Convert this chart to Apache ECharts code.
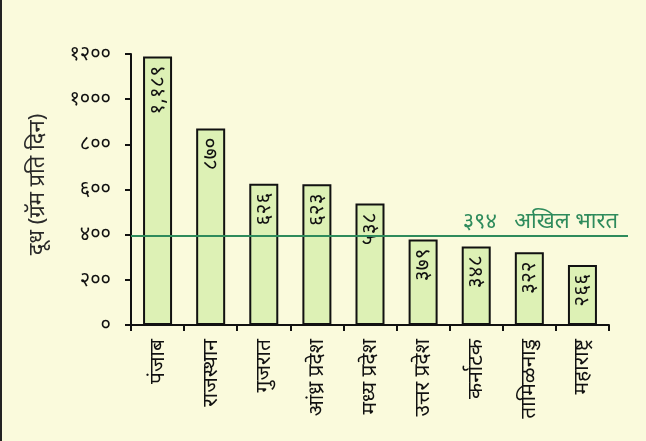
<!DOCTYPE html>
<html><head><meta charset="utf-8">
<script src="https://cdn.jsdelivr.net/npm/echarts@6/dist/echarts.min.js"></script>
<style>
html,body{margin:0;padding:0;background:#FAFADC;}
#c{position:absolute;left:0;top:0;width:646px;height:441px;}
#edge{position:absolute;left:0;top:0;width:2px;height:441px;background:#222;}
</style></head>
<body><div id="c"></div><div id="edge"></div>
<script>
const categories = ['पंजाब','राजस्थान','गुजरात','आंध्र प्रदेश','मध्य प्रदेश','उत्तर प्रदेश','कर्नाटक','तामिळनाडु','महाराष्ट्र'];
const values = [1189, 870, 626, 623, 538, 379, 348, 322, 266];
const valueLabels = ['१,१८९','८७०','६२६','६२३','५३८','३७९','३४८','३२२','२६६'];
const yTicks = [0, 200, 400, 600, 800, 1000, 1200];
const yTickLabels = ['०','२००','४००','६००','८००','१०००','१२००'];
const nationalAvg = 394;
const nationalLabel = '३९४   अखिल भारत';
const yName = 'दूध (ग्रॅम प्रति दिन)';

const FONT = "'Noto Sans', 'Noto Sans Devanagari', 'Lohit Devanagari', sans-serif";
const GREEN = '#2E8B5C';
const chart = echarts.init(document.getElementById('c'));
chart.setOption({
  backgroundColor: '#FAFADC',
  animation: false,
  textStyle: {fontFamily: FONT},
  grid: [
    {left: 131, right: 37, top: 54, bottom: 116},
    {left: 131, right: 18, top: 54, bottom: 116}
  ],
  xAxis: [
    {type: 'category', data: categories, gridIndex: 0,
     axisLine: {lineStyle: {color: '#111', width: 2}},
     axisTick: {show: true, length: 6, lineStyle: {color: '#111', width: 2}},
     axisLabel: {rotate: 90, fontSize: 21, color: '#111', margin: 14, fontFamily: FONT}},
    {type: 'value', gridIndex: 1, min: 0, max: 1, show: false}
  ],
  yAxis: [
    {type: 'value', gridIndex: 0, min: 0, max: 1200, interval: 200,
     name: yName, nameLocation: 'middle', nameGap: 82, nameRotate: 90,
     nameTextStyle: {fontSize: 22, color: '#2a2a2a', fontFamily: FONT, padding: [0, 0, 0, 10]},
     axisLine: {show: true, lineStyle: {color: '#111', width: 2}},
     axisTick: {show: true, length: 6, lineStyle: {color: '#111', width: 2}},
     splitLine: {show: false},
     axisLabel: {fontSize: 20, color: '#111', margin: 20, fontFamily: FONT,
       formatter: v => yTickLabels[yTicks.indexOf(v)]}},
    {type: 'value', gridIndex: 1, min: 0, max: 1200, show: false}
  ],
  series: [
    {type: 'bar', data: values, xAxisIndex: 0, yAxisIndex: 0, barWidth: 29,
     itemStyle: {color: '#DDF1B5', borderColor: '#111', borderWidth: 2},
     label: {show: true, position: 'insideTop', rotate: 90, align: 'right', verticalAlign: 'middle',
       distance: 9, fontSize: 21, color: '#111', fontFamily: FONT,
       formatter: p => valueLabels[p.dataIndex]}},
    {type: 'line', xAxisIndex: 1, yAxisIndex: 1, data: [], silent: true,
     markLine: {symbol: 'none', silent: true,
       lineStyle: {color: GREEN, width: 2, type: 'solid'},
       label: {show: true, position: 'insideEndTop', formatter: nationalLabel,
         color: GREEN, fontSize: 22, distance: [10, 3], fontFamily: FONT},
       data: [{yAxis: nationalAvg}]}}
  ]
});
</script></body></html>
